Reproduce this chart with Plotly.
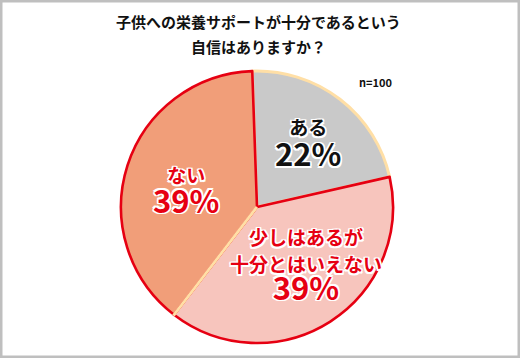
import math
import plotly.graph_objects as go

# Data
categories = ["ある", "少しはあるが十分とはいえない", "ない"]
values = [22, 39, 39]
label_lines = [["ある"], ["少しはあるが", "十分とはいえない"], ["ない"]]
title_lines = ["子供への栄養サポートが十分であるという", "自信はありますか？"]
n_label = "n=100"

W, H = 520, 358
FONT = "Noto Sans CJK JP"
RED = "#E60012"
PALE = "#FFDFA6"
fills = ["#C9C9C9", "#F7C5BD", "#F19E79"]
borders = [PALE, RED, RED]
text_colors = ["#111111", RED, RED]

cx, cy, r = 257, 207, 136  # pixel center / radius
rotation = -2

fig = go.Figure(go.Pie(
    labels=categories, values=values, sort=False, direction="clockwise",
    rotation=rotation, textinfo="none", hoverinfo="skip",
    marker=dict(colors=fills, line=dict(color=borders, width=[3, 2.6, 2.6])),
    domain=dict(x=[(cx - r) / W, (cx + r) / W], y=[1 - (cy + r) / H, 1 - (cy - r) / H]),
    showlegend=False,
))

def px(x, y):
    return x / W, 1 - y / H

# pale divider between 少し and ない
theta = math.radians(rotation + (values[0] + values[1]) / sum(values) * 360)
x0, y0 = px(cx, cy)
x1, y1 = px(cx + (r + 1) * math.sin(theta), cy - (r + 1) * math.cos(theta))
shapes = [
    dict(type="line", xref="paper", yref="paper", x0=x0, y0=y0, x1=x1, y1=y1,
         line=dict(color=PALE, width=3)),
    dict(type="rect", xref="paper", yref="paper", x0=0, y0=0, x1=1, y1=1,
         line=dict(color="#BFBFBF", width=5)),
]

shadow = ("-1.5px -1.5px 0 #fff, 1.5px -1.5px 0 #fff, -1.5px 1.5px 0 #fff, 1.5px 1.5px 0 #fff, "
          "0 1.5px 0 #fff, 0 -1.5px 0 #fff, 1.5px 0 0 #fff, -1.5px 0 0 #fff")

annotations = []
def ann(text, x, y, size, color, sh=True):
    ax, ay = px(x, y)
    annotations.append(dict(text=text, x=ax, y=ay, xref="paper", yref="paper",
                            showarrow=False, xanchor="center", yanchor="middle",
                            borderpad=0,
                            font=dict(family=FONT, size=size, color=color,
                                      weight="bold", shadow=shadow if sh else "none")))

def sp(t, s):
    return f"<span style='font-size:{s}px'>{t}</span>"

# title
ann(sp(title_lines[0], 15) + "<br>" + sp(title_lines[1], 15), 258, 34, 19, "#111111", sh=False)
ann(n_label, 375, 82, 11, "#111111", sh=False)

pct = [f"{v}%" for v in values]
# ある
ann(sp(label_lines[0][0], 19) + "<br>" + sp(pct[0], 31), 308, 144, 24, text_colors[0])
# 少し
ann(sp(label_lines[1][0], 19) + "<br>" + sp(label_lines[1][1], 19) + "<br>" + sp(pct[1], 31),
    306, 266, 21, text_colors[1])
# ない
ann(sp(label_lines[2][0], 19) + "<br>" + sp(pct[2], 31), 186, 191, 23, text_colors[2])

fig.update_layout(width=W, height=H, margin=dict(l=0, r=0, t=0, b=0),
                  paper_bgcolor="white", plot_bgcolor="white",
                  shapes=shapes, annotations=annotations)
fig.write_html("out.html", config={"displayModeBar": False},
               post_script="document.body.style.margin='0';")
